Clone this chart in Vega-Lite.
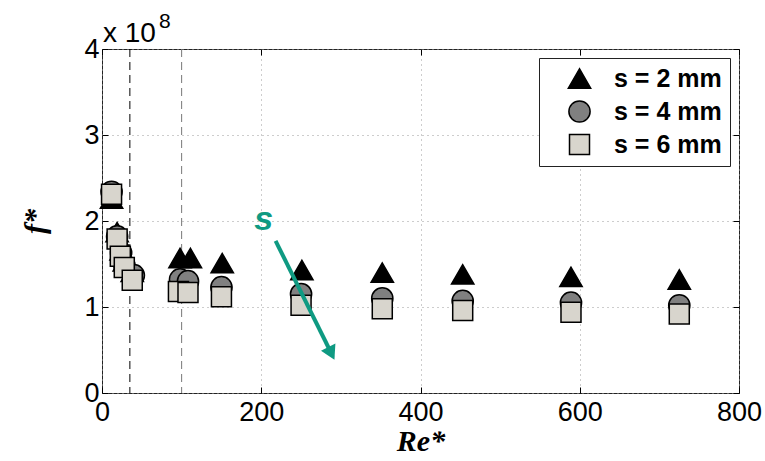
{
  "$schema": "https://vega.github.io/schema/vega-lite/v6.json",
  "width": 637,
  "height": 344,
  "autosize": {"type": "none"},
  "padding": {"left": 102, "top": 49, "right": 26, "bottom": 68},
  "background": "white",
  "config": {
    "view": {"stroke": "#222222", "strokeWidth": 1},
    "font": "Liberation Sans",
    "axis": {
      "labelFont": "Liberation Sans",
      "labelFontSize": 27,
      "labelColor": "black",
      "labelFlush": false,
      "labelOverlap": false,
      "domain": false,
      "tickColor": "black",
      "tickSize": -6,
      "gridColor": "#9a9a9a",
      "gridDash": [1, 4],
      "gridWidth": 1,
      "titleFont": "Liberation Serif",
      "titleFontStyle": "italic",
      "titleFontWeight": "bold",
      "titleFontSize": 30,
      "titleColor": "black"
    }
  },
  "datasets": {
    "pts": [
      {"Re": 12, "f": 2.26, "s": "s = 2 mm"},
      {"Re": 19, "f": 1.87, "s": "s = 2 mm"},
      {"Re": 24, "f": 1.66, "s": "s = 2 mm"},
      {"Re": 28, "f": 1.53, "s": "s = 2 mm"},
      {"Re": 38, "f": 1.41, "s": "s = 2 mm"},
      {"Re": 98, "f": 1.57, "s": "s = 2 mm"},
      {"Re": 111, "f": 1.57, "s": "s = 2 mm"},
      {"Re": 151, "f": 1.51, "s": "s = 2 mm"},
      {"Re": 251, "f": 1.43, "s": "s = 2 mm"},
      {"Re": 352, "f": 1.40, "s": "s = 2 mm"},
      {"Re": 453, "f": 1.38, "s": "s = 2 mm"},
      {"Re": 589, "f": 1.35, "s": "s = 2 mm"},
      {"Re": 725, "f": 1.32, "s": "s = 2 mm"},
      {"Re": 12, "f": 2.34, "s": "s = 4 mm"},
      {"Re": 19, "f": 1.82, "s": "s = 4 mm"},
      {"Re": 24, "f": 1.63, "s": "s = 4 mm"},
      {"Re": 28, "f": 1.49, "s": "s = 4 mm"},
      {"Re": 40, "f": 1.37, "s": "s = 4 mm"},
      {"Re": 98, "f": 1.32, "s": "s = 4 mm"},
      {"Re": 108, "f": 1.30, "s": "s = 4 mm"},
      {"Re": 150, "f": 1.23, "s": "s = 4 mm"},
      {"Re": 250, "f": 1.15, "s": "s = 4 mm"},
      {"Re": 352, "f": 1.10, "s": "s = 4 mm"},
      {"Re": 453, "f": 1.07, "s": "s = 4 mm"},
      {"Re": 589, "f": 1.05, "s": "s = 4 mm"},
      {"Re": 725, "f": 1.02, "s": "s = 4 mm"},
      {"Re": 12, "f": 2.31, "s": "s = 6 mm"},
      {"Re": 19, "f": 1.79, "s": "s = 6 mm"},
      {"Re": 23, "f": 1.59, "s": "s = 6 mm"},
      {"Re": 28, "f": 1.46, "s": "s = 6 mm"},
      {"Re": 38, "f": 1.31, "s": "s = 6 mm"},
      {"Re": 96, "f": 1.18, "s": "s = 6 mm"},
      {"Re": 108, "f": 1.17, "s": "s = 6 mm"},
      {"Re": 150, "f": 1.12, "s": "s = 6 mm"},
      {"Re": 250, "f": 1.02, "s": "s = 6 mm"},
      {"Re": 352, "f": 0.98, "s": "s = 6 mm"},
      {"Re": 453, "f": 0.96, "s": "s = 6 mm"},
      {"Re": 589, "f": 0.94, "s": "s = 6 mm"},
      {"Re": 725, "f": 0.92, "s": "s = 6 mm"}
    ],
    "vlines": [
      {"Re": 35, "kind": "a"},
      {"Re": 100, "kind": "b"}
    ],
    "arrow": [
      {"Re": 218, "f": 1.77, "Re2": 286, "f2": 0.50}
    ],
    "head": [
      {"Re": 288, "f": 0.46}
    ],
    "lab": [
      {"Re": 203, "f": 2.01, "t": "s"}
    ],
    "corner": [
      {"Re": 0, "f": 4}
    ]
  },
  "layer": [
    {
      "data": {"name": "vlines"},
      "mark": {"type": "rule", "strokeDash": [8, 5], "strokeWidth": 1},
      "encoding": {
        "x": {
          "field": "Re", "type": "quantitative",
          "scale": {"domain": [0, 800], "nice": false},
          "axis": {"orient": "top", "values": [0, 200, 400, 600, 800], "labels": false, "grid": false, "title": null}
        },
        "color": {
          "field": "kind", "type": "nominal",
          "scale": {"domain": ["a", "b"], "range": ["#000000", "#777777"]},
          "legend": null
        }
      }
    },
    {
      "data": {"name": "pts"},
      "mark": {"type": "point", "filled": true, "stroke": "black", "strokeWidth": 1.5, "opacity": 1},
      "encoding": {
        "x": {
          "field": "Re", "type": "quantitative",
          "scale": {"domain": [0, 800], "nice": false},
          "axis": {"orient": "bottom", "values": [0, 200, 400, 600, 800], "grid": true, "title": "Re*", "labelPadding": 12, "titlePadding": 1}
        },
        "y": {
          "field": "f", "type": "quantitative",
          "scale": {"domain": [0, 4], "nice": false},
          "axis": {"orient": "left", "values": [0, 1, 2, 3, 4], "grid": true, "title": "f*", "labelPadding": 9, "titlePadding": 33}
        },
        "shape": {
          "field": "s", "type": "nominal",
          "scale": {"domain": ["s = 2 mm", "s = 4 mm", "s = 6 mm"], "range": ["triangle-up", "circle", "square"]},
          "legend": {
            "title": null,
            "orient": "top-right",
            "offset": 9,
            "strokeColor": "#222222",
            "fillColor": "white",
            "padding": 8,
            "labelFont": "Liberation Sans",
            "labelFontSize": 25,
            "labelFontWeight": "bold",
            "labelColor": "black",
            "symbolStrokeColor": "black",
            "symbolStrokeWidth": 1.5,
            "symbolOffset": 20,
            "rowPadding": 5,
            "labelOffset": 22
          }
        },
        "fill": {
          "field": "s", "type": "nominal",
          "scale": {"domain": ["s = 2 mm", "s = 4 mm", "s = 6 mm"], "range": ["#000000", "#808080", "#d8d5cd"]},
          "legend": {"title": null}
        },
        "size": {
          "field": "s", "type": "nominal",
          "scale": {"domain": ["s = 2 mm", "s = 4 mm", "s = 6 mm"], "range": [500, 400, 280]},
          "legend": {"title": null}
        }
      }
    },
    {
      "data": {"name": "arrow"},
      "mark": {"type": "rule", "color": "#0f9a82", "strokeWidth": 4},
      "encoding": {
        "x": {"field": "Re", "type": "quantitative", "axis": null},
        "y": {
          "field": "f", "type": "quantitative",
          "axis": {"orient": "right", "values": [0, 1, 2, 3, 4], "labels": false, "grid": false, "title": null}
        },
        "x2": {"field": "Re2"},
        "y2": {"field": "f2"}
      }
    },
    {
      "data": {"name": "head"},
      "mark": {"type": "point", "shape": "triangle-up", "filled": true, "color": "#0f9a82", "opacity": 1, "size": 260, "angle": 153.4},
      "encoding": {
        "x": {"field": "Re", "type": "quantitative", "axis": null},
        "y": {"field": "f", "type": "quantitative", "axis": null}
      }
    },
    {
      "data": {"name": "lab"},
      "mark": {"type": "text", "font": "Liberation Sans", "fontStyle": "italic", "fontWeight": "bold", "fontSize": 34, "color": "#0f9a82", "baseline": "middle", "align": "center"},
      "encoding": {
        "x": {"field": "Re", "type": "quantitative", "axis": null},
        "y": {"field": "f", "type": "quantitative", "axis": null},
        "text": {"field": "t"}
      }
    },
    {
      "data": {"name": "corner"},
      "mark": {"type": "text", "font": "Liberation Sans", "fontSize": 28, "color": "black", "align": "left", "baseline": "alphabetic", "dx": 1, "dy": -7, "text": "x 10"},
      "encoding": {
        "x": {"field": "Re", "type": "quantitative", "axis": null},
        "y": {"field": "f", "type": "quantitative", "axis": null}
      }
    },
    {
      "data": {"name": "corner"},
      "mark": {"type": "text", "font": "Liberation Sans", "fontSize": 21, "color": "black", "align": "left", "baseline": "alphabetic", "dx": 57, "dy": -21, "text": "8"},
      "encoding": {
        "x": {"field": "Re", "type": "quantitative", "axis": null},
        "y": {"field": "f", "type": "quantitative", "axis": null}
      }
    }
  ],
  "resolve": {"axis": {"x": "independent", "y": "independent"}}
}
